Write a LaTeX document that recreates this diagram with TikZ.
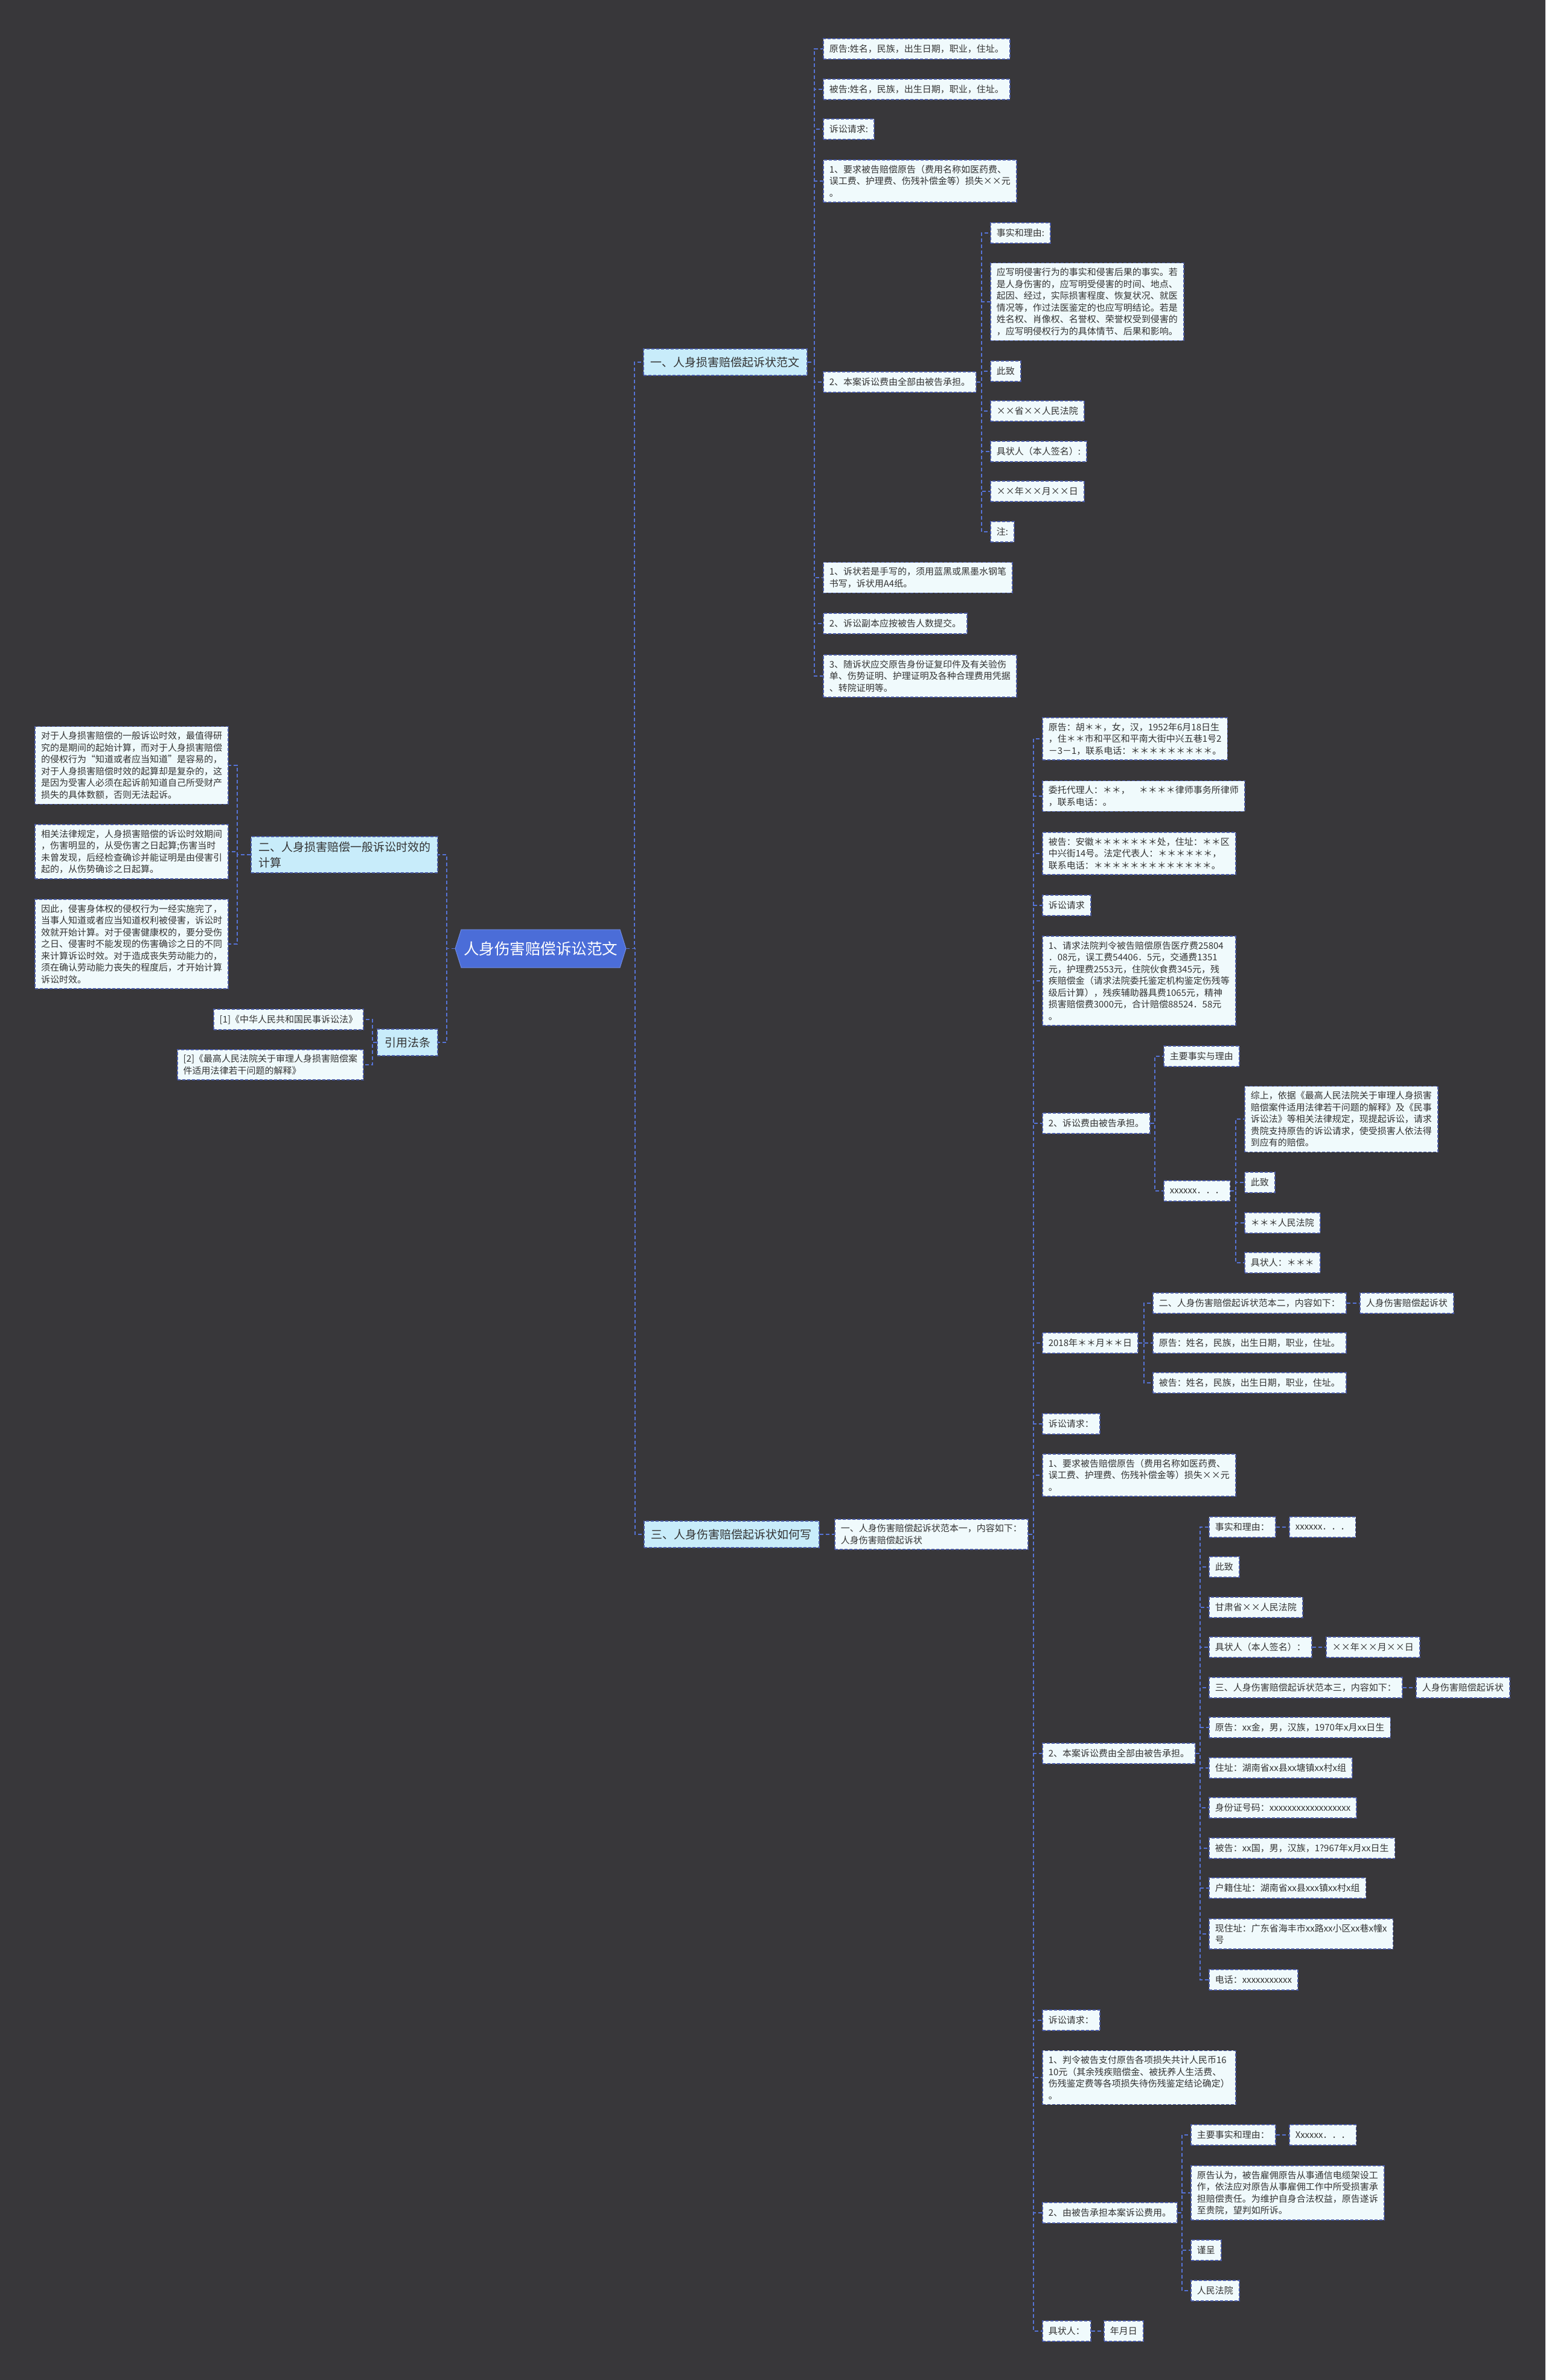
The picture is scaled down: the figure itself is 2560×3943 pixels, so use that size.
\documentclass[tikz,border=0pt]{standalone}
\usepackage{fontspec}
\setmainfont{Noto Sans CJK SC}
\usetikzlibrary{positioning,shapes.symbols}
\definecolor{bgDark}{HTML}{38373A}
\definecolor{rootBlue}{HTML}{4B6DD8}
\definecolor{lineBlue}{HTML}{5673D6}
\definecolor{edgeNavy}{HTML}{4A5BA8}
\definecolor{lvBg}{HTML}{C8ECFA}
\definecolor{leafBg}{HTML}{F0FAFC}
\definecolor{inkGray}{HTML}{333333}
\newcommand{\leaffont}{\fontsize{15}{19.5}\selectfont}
\newcommand{\lvfont}{\fontsize{19}{26}\selectfont}

\begin{document}
\begin{tikzpicture}[
  x=1pt, y=-1pt,
  rootnode/.style={shape=signal, signal from=nowhere, signal to=west and east, signal pointer angle=145,
        fill=rootBlue, draw=rootBlue!80!white, line width=1pt, text=white,
        font=\fontsize{25.5}{30}\selectfont, minimum width=268, minimum height=63, inner xsep=4},
  lvone/.style={draw=edgeNavy, dash pattern=on 5pt off 3pt, line width=1.6pt, fill=lvBg,
        text=inkGray, font=\lvfont, align=left, inner xsep=12, inner ysep=8, minimum height=44},
  leaf/.style={draw=edgeNavy, dash pattern=on 5pt off 3pt, line width=1.6pt, fill=leafBg,
        text=inkGray, font=\leaffont, align=left, inner xsep=10, inner ysep=8.5, minimum height=34},
  lf/.style={leaf, anchor=west},
  lfr/.style={leaf, anchor=east},
  link/.style={draw=lineBlue, line width=1.8pt, dash pattern=on 6pt off 4pt},
]

% ---------- elbow connectors (parent -> child) ----------
\newcommand{\lnk}[2]{\draw[link] (#1.east) -| ([xshift=-14pt]#2.west) -- (#2.west);}
\newcommand{\lnkl}[2]{\draw[link] (#1.west) -| ([xshift=14pt]#2.east) -- (#2.east);}

\fill[bgDark] (0,0) rectangle (2560,3943);
\useasboundingbox (0,0) rectangle (2560,3943);

% =====================================================================
% ROOT
% =====================================================================
\node[rootnode] (root) at (895.5,1571.5) {人身伤害赔偿诉讼范文};

% =====================================================================
% 一 : sample complaint
% =====================================================================
\node[lvone, anchor=west] (secA) at (1065,600) {一、人身损害赔偿起诉状范文};
\node[lf] (aPlt)  at (1363,81)  {原告:姓名，民族，出生日期，职业，住址。};
\node[lf] (aDef)  at (1363,148) {被告:姓名，民族，出生日期，职业，住址。};
\node[lf] (aReq)  at (1363,214) {诉讼请求:};
\node[lf] (aReqA) at (1363,300) {1、要求被告赔偿原告（费用名称如医药费、\\误工费、护理费、伤残补偿金等）损失××元\\。};
\node[lf] (aFee)  at (1363,633) {2、本案诉讼费由全部由被告承担。};
\node[lf] (aNoteA) at (1363,957) {1、诉状若是手写的，须用蓝黑或黑墨水钢笔\\书写，诉状用A4纸。};
\node[lf] (aNoteB) at (1363,1033) {2、诉讼副本应按被告人数提交。};
\node[lf] (aNoteC) at (1363,1120) {3、随诉状应交原告身份证复印件及有关验伤\\单、伤势证明、护理证明及各种合理费用凭据\\、转院证明等。};

\node[lf] (aFact)  at (1640,386) {事实和理由:};
\node[lf] (aFactT) at (1640,500) {应写明侵害行为的事实和侵害后果的事实。若\\是人身伤害的，应写明受侵害的时间、地点、\\起因、经过，实际损害程度、恢复状况、就医\\情况等，作过法医鉴定的也应写明结论。若是\\姓名权、肖像权、名誉权、荣誉权受到侵害的\\，应写明侵权行为的具体情节、后果和影响。};
\node[lf] (aTo)    at (1640,615) {此致};
\node[lf] (aCourt) at (1640,681) {××省××人民法院};
\node[lf] (aSign)  at (1640,748) {具状人（本人签名）:};
\node[lf] (aDate)  at (1640,814) {××年××月××日};
\node[lf] (aNote)  at (1640,881) {注:};

% =====================================================================
% 二 : limitation period  /  引用法条
% =====================================================================
\node[lvone, anchor=east] (secB) at (726,1416) {二、人身损害赔偿一般诉讼时效的\\计算};
\node[lfr] (bTxtA) at (379,1268) {对于人身损害赔偿的一般诉讼时效，最值得研\\究的是期间的起始计算，而对于人身损害赔偿\\的侵权行为“知道或者应当知道”是容易的，\\对于人身损害赔偿时效的起算却是复杂的，这\\是因为受害人必须在起诉前知道自己所受财产\\损失的具体数额，否则无法起诉。};
\node[lfr] (bTxtB) at (379,1411) {相关法律规定，人身损害赔偿的诉讼时效期间\\，伤害明显的，从受伤害之日起算;伤害当时\\未曾发现，后经检查确诊并能证明是由侵害引\\起的，从伤势确诊之日起算。};
\node[lfr] (bTxtC) at (379,1564) {因此，侵害身体权的侵权行为一经实施完了，\\当事人知道或者应当知道权利被侵害，诉讼时\\效就开始计算。对于侵害健康权的，要分受伤\\之日、侵害时不能发现的伤害确诊之日的不同\\来计算诉讼时效。对于造成丧失劳动能力的，\\须在确认劳动能力丧失的程度后，才开始计算\\诉讼时效。};

\node[lvone, anchor=east] (refs) at (726,1727) {引用法条};
\node[lfr] (refA) at (603,1689) {[1]《中华人民共和国民事诉讼法》};
\node[lfr] (refB) at (603,1764) {[2]《最高人民法院关于审理人身损害赔偿案\\件适用法律若干问题的解释》};

% =====================================================================
% 三 : how to write it
% =====================================================================
\node[lvone, anchor=west] (secC) at (1066,2542) {三、人身伤害赔偿起诉状如何写};
\node[lf] (cOne) at (1382,2542) {一、人身伤害赔偿起诉状范本一，内容如下：\\人身伤害赔偿起诉状};

\node[lf] (cPlt)   at (1726,1224) {原告：胡＊＊，女，汉，1952年6月18日生\\，住＊＊市和平区和平南大街中兴五巷1号2\\－3－1，联系电话：＊＊＊＊＊＊＊＊＊。};
\node[lf] (cAgent) at (1726,1319) {委托代理人：＊＊，　＊＊＊＊律师事务所律师\\，联系电话：。};
\node[lf] (cDef)   at (1726,1414) {被告：安徽＊＊＊＊＊＊＊处，住址：＊＊区\\中兴街14号。法定代表人：＊＊＊＊＊＊，\\联系电话：＊＊＊＊＊＊＊＊＊＊＊＊＊。};
\node[lf] (cReq)   at (1726,1500) {诉讼请求};
\node[lf] (cReqA)  at (1726,1625) {1、请求法院判令被告赔偿原告医疗费25804\\．08元，误工费54406．5元，交通费1351\\元，护理费2553元，住院伙食费345元，残\\疾赔偿金（请求法院委托鉴定机构鉴定伤残等\\级后计算），残疾辅助器具费1065元，精神\\损害赔偿费3000元，合计赔偿88524．58元\\。};
\node[lf] (cFee)   at (1726,1861) {2、诉讼费由被告承担。};
\node[lf] (cDay)   at (1726,2225) {2018年＊＊月＊＊日};
\node[lf] (cReq2)  at (1726,2359) {诉讼请求：};
\node[lf] (cReq2A) at (1726,2444) {1、要求被告赔偿原告（费用名称如医药费、\\误工费、护理费、伤残补偿金等）损失××元\\。};
\node[lf] (cFee2)  at (1726,2905) {2、本案诉讼费由全部由被告承担。};
\node[lf] (cReq3)  at (1726,3347) {诉讼请求：};
\node[lf] (cReq3A) at (1726,3442) {1、判令被告支付原告各项损失共计人民币16\\10元（其余残疾赔偿金、被抚养人生活费、\\伤残鉴定费等各项损失待伤残鉴定结论确定）\\。};
\node[lf] (cFee3)  at (1726,3666) {2、由被告承担本案诉讼费用。};
\node[lf] (cSign3) at (1726,3862) {具状人：};
\node[lf] (cDate3) at (1828,3862) {年月日};

% --- 2、诉讼费由被告承担。
\node[lf] (dFact)  at (1927,1750) {主要事实与理由};
\node[lf] (dMore)  at (1927,1973) {xxxxxx．．．};
\node[lf] (dSum)   at (2061,1854) {综上，依据《最高人民法院关于审理人身损害\\赔偿案件适用法律若干问题的解释》及《民事\\诉讼法》等相关法律规定，现提起诉讼，请求\\贵院支持原告的诉讼请求，使受损害人依法得\\到应有的赔偿。};
\node[lf] (dTo)    at (2061,1959) {此致};
\node[lf] (dCourt) at (2061,2026) {＊＊＊人民法院};
\node[lf] (dSign)  at (2061,2092) {具状人：＊＊＊};

% --- 2018年
\node[lf] (eTwo)   at (1909,2159) {二、人身伤害赔偿起诉状范本二，内容如下：};
\node[lf] (eTitle) at (2252,2159) {人身伤害赔偿起诉状};
\node[lf] (ePlt)   at (1909,2225) {原告：姓名，民族，出生日期，职业，住址。};
\node[lf] (eDef)   at (1909,2291) {被告：姓名，民族，出生日期，职业，住址。};

% --- 2、本案诉讼费由全部由被告承担。
\node[lf] (fFact)  at (2002,2530) {事实和理由：};
\node[lf] (fMore)  at (2135,2530) {xxxxxx．．．};
\node[lf] (fTo)    at (2002,2596) {此致};
\node[lf] (fCourt) at (2002,2663) {甘肃省××人民法院};
\node[lf] (fSign)  at (2002,2729) {具状人（本人签名）：};
\node[lf] (fDate)  at (2196,2729) {××年××月××日};
\node[lf] (fThree) at (2002,2796) {三、人身伤害赔偿起诉状范本三，内容如下：};
\node[lf] (fTitle) at (2345,2796) {人身伤害赔偿起诉状};
\node[lf] (fPlt)   at (2002,2862) {原告：xx金，男，汉族，1970年x月xx日生};
\node[lf] (fAddr)  at (2002,2929) {住址：湖南省xx县xx塘镇xx村x组};
\node[lf] (fId)    at (2002,2995) {身份证号码：xxxxxxxxxxxxxxxxxx};
\node[lf] (fDef)   at (2002,3062) {被告：xx国，男，汉族，1?967年x月xx日生};
\node[lf] (fHome)  at (2002,3128) {户籍住址：湖南省xx县xxx镇xx村x组};
\node[lf] (fNow)   at (2002,3204) {现住址：广东省海丰市xx路xx小区xx巷x幢x\\号};
\node[lf] (fTel)   at (2002,3280) {电话：xxxxxxxxxxx};

% --- 2、由被告承担本案诉讼费用。
\node[lf] (gFact)  at (1972,3537) {主要事实和理由：};
\node[lf] (gMore)  at (2135,3537) {Xxxxxx．．．};
\node[lf] (gText)  at (1972,3633) {原告认为，被告雇佣原告从事通信电缆架设工\\作，依法应对原告从事雇佣工作中所受损害承\\担赔偿责任。为维护自身合法权益，原告遂诉\\至贵院，望判如所诉。};
\node[lf] (gPres)  at (1972,3728) {谨呈};
\node[lf] (gCourt) at (1972,3795) {人民法院};

% =====================================================================
% CONNECTORS
% =====================================================================
\lnk{root}{secA} \lnk{root}{secC}
\lnkl{root}{secB} \lnkl{root}{refs}
\foreach \c in {aPlt,aDef,aReq,aReqA,aFee,aNoteA,aNoteB,aNoteC} {\lnk{secA}{\c}}
\foreach \c in {aFact,aFactT,aTo,aCourt,aSign,aDate,aNote} {\lnk{aFee}{\c}}
\foreach \c in {bTxtA,bTxtB,bTxtC} {\lnkl{secB}{\c}}
\foreach \c in {refA,refB} {\lnkl{refs}{\c}}
\lnk{secC}{cOne}
\foreach \c in {cPlt,cAgent,cDef,cReq,cReqA,cFee,cDay,cReq2,cReq2A,cFee2,cReq3,cReq3A,cFee3,cSign3} {\lnk{cOne}{\c}}
\lnk{cSign3}{cDate3}
\foreach \c in {dFact,dMore} {\lnk{cFee}{\c}}
\foreach \c in {dSum,dTo,dCourt,dSign} {\lnk{dMore}{\c}}
\foreach \c in {eTwo,ePlt,eDef} {\lnk{cDay}{\c}}
\lnk{eTwo}{eTitle}
\foreach \c in {fFact,fTo,fCourt,fSign,fThree,fPlt,fAddr,fId,fDef,fHome,fNow,fTel} {\lnk{cFee2}{\c}}
\lnk{fFact}{fMore} \lnk{fSign}{fDate} \lnk{fThree}{fTitle}
\foreach \c in {gFact,gText,gPres,gCourt} {\lnk{cFee3}{\c}}
\lnk{gFact}{gMore}

\end{tikzpicture}
\end{document}
